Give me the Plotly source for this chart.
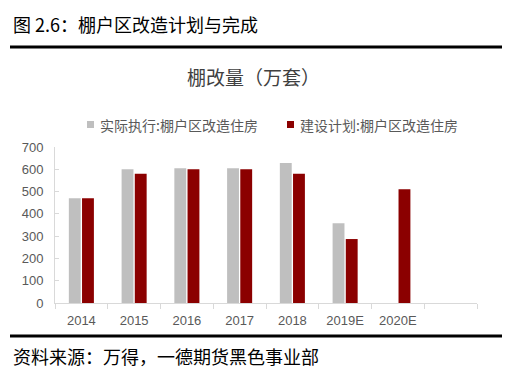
import plotly.graph_objects as go

categories = ["2014", "2015", "2016", "2017", "2018", "2019E", "2020E", " "]
actual = [470, 600, 605, 605, 628, 358, None, None]
planned = [470, 580, 600, 600, 580, 287, 510, None]
y_ticks = [0, 100, 200, 300, 400, 500, 600, 700]

series_names = ["实际执行:棚户区改造住房", "建设计划:棚户区改造住房"]
series_colors = ["#bfbfbf", "#8b0000"]
header = "图 2.6：棚户区改造计划与完成"
chart_title = "棚改量（万套）"
footer = "资料来源：万得，一德期货黑色事业部"

CJK = "Noto Sans CJK SC"
GRAY_TXT = "#595959"
AX = "#d9d9d9"

# page body has an 8px margin; work in target-pixel coordinates and shift
OFF = 8
W, H = 526 - OFF, 384 - OFF
L, R, T, B = 55 - OFF, 49 - OFF, 147 - OFF, 81 + OFF - OFF
# plot area in target px: x 55..477, y 147..303
pw = 477 - 55
ph = 303 - 147
R = W - L - pw
B = H - T - ph

def px_x(px):
    return (px - 55) / pw

def px_y(py):
    return (303 - py) / ph

fig = go.Figure()
for name, vals, col in zip(series_names, [actual, planned], series_colors):
    fig.add_trace(go.Bar(x=categories, y=vals, name=name,
                         marker=dict(color=col, line=dict(width=0))))

fig.update_layout(
    width=W, height=H,
    margin=dict(l=L, r=R, t=T, b=B, autoexpand=False),
    paper_bgcolor="white", plot_bgcolor="white",
    barmode="group", bargap=0.5, bargroupgap=0.1,
    font=dict(family=CJK, color=GRAY_TXT, size=13),
    showlegend=False,
)
fig.update_xaxes(type="category", categoryorder="array", categoryarray=categories,
                 range=[-0.5, 7.5], showline=True, linecolor=AX, linewidth=1,
                 ticks="outside", tickson="boundaries", ticklen=5, tickcolor=AX,
                 showgrid=False, ticklabelstandoff=5,
                 tickfont=dict(family="Liberation Sans, Arial", size=13, color=GRAY_TXT),
                 fixedrange=True)
fig.update_yaxes(range=[0, 700], tickvals=y_ticks, showline=True, linecolor=AX, linewidth=1,
                 ticks="inside", ticklen=4, tickcolor=AX, showgrid=False, zeroline=False,
                 ticklabelstandoff=8,
                 tickfont=dict(family="Liberation Sans, Arial", size=13, color=GRAY_TXT),
                 fixedrange=True)

# header / footer rules
for yy in (47, 336):
    fig.add_shape(type="line", xref="paper", yref="paper",
                  x0=px_x(10), x1=px_x(502), y0=px_y(yy), y1=px_y(yy),
                  line=dict(color="black", width=3))

fig.add_annotation(text=header, xref="paper", yref="paper", x=px_x(11), y=px_y(24),
                   xanchor="left", yanchor="middle", showarrow=False,
                   font=dict(family=CJK, size=18, color="black"))
fig.add_annotation(text=footer, xref="paper", yref="paper", x=px_x(11), y=px_y(356),
                   xanchor="left", yanchor="middle", showarrow=False,
                   font=dict(family=CJK, size=18, color="black"))
fig.add_annotation(text=chart_title, xref="paper", yref="paper", x=px_x(253), y=px_y(76),
                   xanchor="center", yanchor="middle", showarrow=False,
                   font=dict(family=CJK, size=19, color="#404040"))

# legend drawn as marker squares + text
legend_x = [87, 287]
for name, col, lx in zip(series_names, series_colors, legend_x):
    fig.add_shape(type="rect", xref="paper", yref="paper",
                  x0=px_x(lx), x1=px_x(lx + 7), y0=px_y(121), y1=px_y(128),
                  fillcolor=col, line=dict(width=0))
    fig.add_annotation(text=name, xref="paper", yref="paper", x=px_x(lx + 11), y=px_y(125),
                       xanchor="left", yanchor="middle", showarrow=False,
                       font=dict(family=CJK, size=14, color=GRAY_TXT))

fig.write_html("out.html")
